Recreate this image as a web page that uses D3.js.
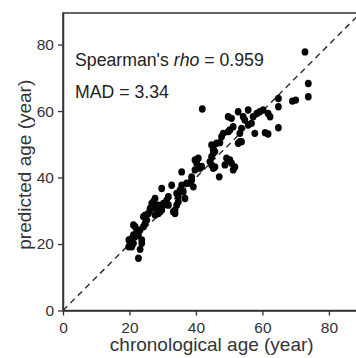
<!DOCTYPE html>
<html>
<head>
<meta charset="utf-8">
<script src="https://cdn.jsdelivr.net/npm/d3@7"></script>
<style>
  body { margin: 0; background: #fff; }
  svg { display: block; font-family: 'Liberation Sans', Arial, sans-serif; }
</style>
</head>
<body>
<div id="display"></div>
<script>
// chronological age (year) for each sample
const chronoAge = [
  19.8, 19.8, 20.2, 20.7, 21.2, 21.7, 21.2, 20.7, 22.2, 21.7, 21.2, 22.7, 23.2, 23.7, 23.7, 23.2, 22.7,
  24.2, 24.7, 25.2, 24.2, 24.7, 25.7, 26.2, 26.7, 27.2, 26.2,
  27.7, 28.7, 29.2, 29.7, 30.2, 31.7, 33.2, 27.7, 27.2, 28.7, 28.2, 29.7, 29.7, 30.2, 30.7, 31.2, 31.7,
  32.7, 33.7, 33.7, 34.2, 34.7, 36.7, 34.7, 34.2, 35.2, 36.2, 35.7, 35.7, 37.2, 38.2, 38.7, 39.2, 38.7,
  39.7, 40.2, 40.7, 41.2, 41.7, 39.7, 41.9, 44.2, 44.7, 44.7, 45.2, 45.7, 45.2, 44.7, 45.2, 46.2, 47.2,
  45.7, 45.2, 47.0,
  47.7, 48.2, 49.7, 50.2, 51.2, 49.2, 50.2, 50.7, 51.7, 51.2, 48.7, 49.7, 50.7, 52.7, 54.2, 53.2, 52.7,
  53.7, 53.2, 53.7, 55.7, 55.7, 56.7, 54.7, 57.2, 57.7,
  58.3, 59.2, 60.2, 60.8, 61.7, 61.7, 62.3, 64.8, 64.8, 64.8, 69.0, 70.0, 73.8, 73.8, 72.8
];
// predicted age (year), same order
const predictedAge = [
  19.2, 21.2, 20.5, 21.7, 22.7, 22.2, 20.2, 19.2, 23.7, 25.2, 25.7, 22.7, 24.2, 21.2, 20.2, 18.4, 15.7,
  25.2, 26.2, 27.2, 28.2, 28.7, 29.2, 30.2, 32.2, 31.2, 30.7,
  28.7, 29.2, 29.7, 30.7, 32.2, 31.7, 29.7, 33.7, 32.7, 31.7, 30.2, 30.2, 36.7, 31.7, 32.2, 33.2, 34.2,
  37.7, 29.2, 30.2, 31.7, 32.7, 33.7, 34.2, 35.2, 36.2, 35.7, 37.7, 41.7, 38.3, 38.3, 39.2, 37.2, 40.2,
  42.3, 44.3, 45.8, 42.8, 43.3, 45.3, 60.6, 44.8, 43.8, 46.3, 47.3, 47.8, 48.3, 49.8, 49.3, 50.3, 50.5,
  43.2, 42.8, 40.2,
  52.3, 53.3, 53.8, 54.3, 55.3, 45.8, 45.3, 44.3, 43.2, 42.3, 43.8, 58.3, 57.8, 59.8, 58.3, 50.8, 50.3,
  54.8, 53.3, 50.8, 60.3, 55.8, 56.3, 57.3, 58.3, 53.3,
  59.3, 59.8, 60.3, 53.5, 53.1, 59.3, 58.3, 63.8, 61.3, 55.0, 63.0, 63.3, 68.3, 64.3, 77.8
];
const tickValues = [0, 20, 40, 60, 80];
const axisMax = 89.5;
const rhoValue = "0.959";
const madValue = "3.34";

const w = 356;
const h = 358;
const plotLeft = 63;
const plotTop = 13;
const plotBottom = 310.5;
const unit = (plotBottom - plotTop) / axisMax;
const ink = '#333';

const svg = d3.select('#display').append('svg')
    .attr('width', w)
    .attr('height', h);

const xScale = d3.scaleLinear().domain([0, axisMax]).range([plotLeft, plotLeft + axisMax * unit]);
const yScale = d3.scaleLinear().domain([0, axisMax]).range([plotBottom, plotTop]);

// frame (top / right edges, right one falls outside the window)
svg.append('rect')
    .attr('x', xScale(0))
    .attr('y', yScale(axisMax))
    .attr('width', xScale(axisMax) - xScale(0))
    .attr('height', yScale(0) - yScale(axisMax))
    .style('fill', 'none')
    .style('stroke', ink)
    .style('stroke-width', 1.5);

// identity line
svg.append('line')
    .attr('x1', xScale(0))
    .attr('y1', yScale(0))
    .attr('x2', xScale(axisMax))
    .attr('y2', yScale(axisMax))
    .style('stroke', '#333')
    .style('stroke-width', 1.5)
    .style('stroke-dasharray', '6,4.5');

const points = chronoAge.map((x, i) => ({ x: x, y: predictedAge[i] }));
svg.append('g')
    .selectAll('ellipse')
    .data(points)
    .enter()
    .append('ellipse')
    .attr('cx', (d) => xScale(d.x))
    .attr('cy', (d) => yScale(d.y))
    .attr('rx', 3.4)
    .attr('ry', 3.7)
    .style('fill', '#050505');

const xAxisGroup = svg.append('g')
    .attr('transform', `translate(0,${plotBottom})`)
    .call(d3.axisBottom(xScale).tickValues(tickValues).tickSize(5).tickSizeOuter(0).tickPadding(6));
const yAxisGroup = svg.append('g')
    .attr('transform', `translate(${plotLeft},0)`)
    .call(d3.axisLeft(yScale).tickValues(tickValues).tickSize(5).tickSizeOuter(0).tickPadding(4));

[xAxisGroup, yAxisGroup].forEach((g) => {
    g.select('.domain').style('stroke', ink).style('stroke-width', 1.5);
    g.selectAll('.tick line').style('stroke', ink).style('stroke-width', 1.3);
    g.selectAll('.tick text')
        .style('font-family', "'Liberation Sans', Arial, sans-serif")
        .style('font-size', '15.5px')
        .style('fill', ink);
});

// axis titles
svg.append('text')
    .attr('x', (xScale(0) + xScale(axisMax)) / 2)
    .attr('y', 351)
    .attr('text-anchor', 'middle')
    .style('font-size', '19px')
    .style('fill', ink)
    .text('chronological age (year)');

svg.append('text')
    .attr('transform', `translate(31,${(plotTop + plotBottom) / 2 + 3}) rotate(-90)`)
    .attr('text-anchor', 'middle')
    .style('font-size', '19px')
    .style('fill', ink)
    .text('predicted age (year)');

// annotations
const rhoText = svg.append('text')
    .attr('x', 75)
    .attr('y', 66)
    .style('font-size', '17.7px')
    .style('fill', '#222');
rhoText.append('tspan').text("Spearman's ");
rhoText.append('tspan').style('font-style', 'italic').text('rho');
rhoText.append('tspan').text(` = ${rhoValue}`);

svg.append('text')
    .attr('x', 75)
    .attr('y', 98)
    .style('font-size', '17.7px')
    .style('fill', '#222')
    .text(`MAD = ${madValue}`);
</script>
</body>
</html>
